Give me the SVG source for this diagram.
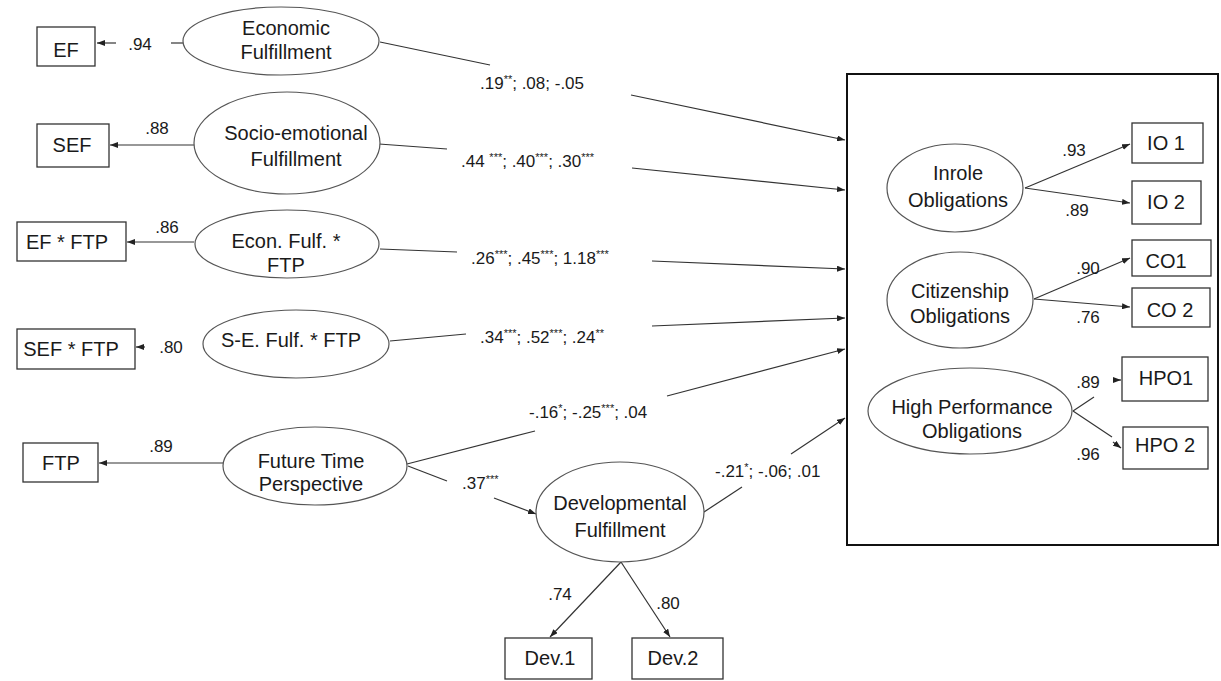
<svg xmlns="http://www.w3.org/2000/svg" width="1221" height="681" viewBox="0 0 1221 681">
<defs>
<marker id="ah" markerUnits="userSpaceOnUse" markerWidth="8" markerHeight="6" refX="8" refY="3" orient="auto">
<path d="M0,0 L8,3 L0,6 z" fill="#222"/>
</marker>
<style>
.n{font-family:"Liberation Sans",Arial,sans-serif;font-size:20px;fill:#1a1a1a;text-anchor:middle}
.b{font-family:"Liberation Sans",Arial,sans-serif;font-size:20px;fill:#1a1a1a;text-anchor:middle}
.l{font-family:"Liberation Sans",Arial,sans-serif;font-size:17px;fill:#1a1a1a}
.lc{text-anchor:middle}
.s{font-size:11px}
ellipse{fill:#fff;stroke:#555;stroke-width:1.2}
rect{fill:#fff;stroke:#333;stroke-width:1.3}
.c line{stroke:#333;stroke-width:1.2;fill:none}
.a{marker-end:url(#ah)}
</style>
</defs>
<rect id="container" x="847" y="74" width="371" height="471" style="stroke:#111;stroke-width:2;fill:none"/>
<g class="c" id="connectors">
<line x1="380" y1="42" x2="490" y2="65"/>
<line class="a" x1="631" y1="95" x2="845" y2="140"/>
<line x1="379" y1="144" x2="447" y2="149"/>
<line class="a" x1="632" y1="168" x2="845" y2="190"/>
<line x1="380" y1="249" x2="457" y2="252"/>
<line class="a" x1="652" y1="261" x2="845" y2="269"/>
<line x1="390" y1="341" x2="466" y2="334"/>
<line class="a" x1="652" y1="326" x2="845" y2="318"/>
<line x1="407" y1="464" x2="535" y2="431"/>
<line class="a" x1="667" y1="396" x2="845" y2="349"/>
<line x1="408" y1="466" x2="447" y2="481"/>
<line class="a" x1="494" y1="498" x2="536" y2="514"/>
<line x1="704" y1="512" x2="742" y2="487"/>
<line class="a" x1="791" y1="454" x2="845" y2="418"/>
<line x1="183" y1="43" x2="171" y2="43"/>
<line class="a" x1="116" y1="43" x2="97" y2="43"/>
<line class="a" x1="194" y1="145" x2="110" y2="145"/>
<line class="a" x1="194" y1="242" x2="127" y2="242"/>
<line class="a" x1="145" y1="347" x2="136" y2="347"/>
<line class="a" x1="223" y1="463" x2="99" y2="463"/>
<line class="a" x1="621" y1="562" x2="550" y2="637"/>
<line class="a" x1="621" y1="562" x2="670" y2="637"/>
<line class="a" x1="1025" y1="188" x2="1130" y2="144"/>
<line class="a" x1="1025" y1="188" x2="1130" y2="203"/>
<line class="a" x1="1034" y1="299" x2="1130" y2="258"/>
<line class="a" x1="1034" y1="299" x2="1130" y2="307"/>
<line x1="1073" y1="411" x2="1094" y2="397"/>
<line class="a" x1="1115" y1="380" x2="1121" y2="380"/>
<line x1="1073" y1="411" x2="1112" y2="437"/>
<line class="a" x1="1113" y1="442" x2="1121" y2="448"/>
</g>
<g id="labels">
<text class="l lc" x="140" y="50">.94</text>
<text class="l lc" x="157" y="134">.88</text>
<text class="l lc" x="167" y="233">.86</text>
<text class="l lc" x="171" y="353">.80</text>
<text class="l lc" x="161" y="452">.89</text>
<text class="l" x="480" y="89">.19<tspan class="s" dy="-6">**</tspan><tspan dy="6">; .08; -.05</tspan></text>
<text class="l" x="461" y="167">.44 <tspan class="s" dy="-6">***</tspan><tspan dy="6">; .40</tspan><tspan class="s" dy="-6">***</tspan><tspan dy="6">; .30</tspan><tspan class="s" dy="-6">***</tspan></text>
<text class="l" x="471" y="264">.26<tspan class="s" dy="-6">***</tspan><tspan dy="6">; .45</tspan><tspan class="s" dy="-6">***</tspan><tspan dy="6">; 1.18</tspan><tspan class="s" dy="-6">***</tspan></text>
<text class="l" x="480" y="343">.34<tspan class="s" dy="-6">***</tspan><tspan dy="6">; .52</tspan><tspan class="s" dy="-6">***</tspan><tspan dy="6">; .24</tspan><tspan class="s" dy="-6">**</tspan></text>
<text class="l" x="529" y="418">-.16<tspan class="s" dy="-6">*</tspan><tspan dy="6">; -.25</tspan><tspan class="s" dy="-6">***</tspan><tspan dy="6">; .04</tspan></text>
<text class="l" x="462" y="489">.37<tspan class="s" dy="-6">***</tspan></text>
<text class="l" x="715" y="477">-.21<tspan class="s" dy="-6">*</tspan><tspan dy="6">; -.06; .01</tspan></text>
<text class="l lc" x="1074" y="156">.93</text>
<text class="l lc" x="1077" y="216">.89</text>
<text class="l lc" x="1088" y="274">.90</text>
<text class="l lc" x="1088" y="323">.76</text>
<text class="l lc" x="1088" y="388">.89</text>
<text class="l lc" x="1088" y="460">.96</text>
<text class="l lc" x="560" y="600">.74</text>
<text class="l lc" x="668" y="609">.80</text>
</g>
<g id="n-economic"><ellipse cx="281" cy="41" rx="98" ry="34"/><text class="n" x="286" y="35">Economic</text><text class="n" x="286" y="59">Fulfillment</text></g>
<g id="n-socio"><ellipse cx="287" cy="143" rx="93" ry="51"/><text class="n" x="296" y="140">Socio-emotional</text><text class="n" x="296" y="166">Fulfillment</text></g>
<g id="n-econftp"><ellipse cx="287" cy="244" rx="92" ry="34"/><text class="n" x="286" y="248">Econ. Fulf. *</text><text class="n" x="286" y="272">FTP</text></g>
<g id="n-seftp"><ellipse cx="296" cy="344" rx="93" ry="34"/><text class="n" x="291" y="347">S-E. Fulf. * FTP</text></g>
<g id="n-ftp"><ellipse cx="315" cy="466" rx="92" ry="39"/><text class="n" x="311" y="468">Future Time</text><text class="n" x="311" y="491">Perspective</text></g>
<g id="n-dev"><ellipse cx="620" cy="512" rx="84" ry="50"/><text class="n" x="620" y="510">Developmental</text><text class="n" x="620" y="537">Fulfillment</text></g>
<g id="n-inrole"><ellipse cx="955" cy="188" rx="68" ry="44"/><text class="n" x="958" y="180">Inrole</text><text class="n" x="958" y="207">Obligations</text></g>
<g id="n-citizen"><ellipse cx="960" cy="300" rx="73" ry="48"/><text class="n" x="960" y="298">Citizenship</text><text class="n" x="960" y="323">Obligations</text></g>
<g id="n-hpo"><ellipse cx="970" cy="411" rx="102" ry="43"/><text class="n" x="972" y="414">High Performance</text><text class="n" x="972" y="438">Obligations</text></g>
<g id="b-ef"><rect x="37" y="27" width="58" height="39"/><text class="b" x="66" y="57">EF</text></g>
<g id="b-sef"><rect x="37" y="124" width="72" height="43"/><text class="b" x="72" y="152">SEF</text></g>
<g id="b-efftp"><rect x="17" y="222" width="109" height="39"/><text class="b" x="67" y="249">EF * FTP</text></g>
<g id="b-sefftp"><rect x="17" y="329" width="118" height="40"/><text class="b" x="71" y="356">SEF * FTP</text></g>
<g id="b-ftp"><rect x="23" y="443" width="75" height="39"/><text class="b" x="61" y="470">FTP</text></g>
<g id="b-dev1"><rect x="505" y="638" width="87" height="41"/><text class="b" x="550" y="665">Dev.1</text></g>
<g id="b-dev2"><rect x="632" y="638" width="91" height="41"/><text class="b" x="673" y="665">Dev.2</text></g>
<g id="b-io1"><rect x="1132" y="123" width="71" height="40"/><text class="b" x="1166" y="150">IO 1</text></g>
<g id="b-io2"><rect x="1132" y="181" width="69" height="43"/><text class="b" x="1166" y="209">IO 2</text></g>
<g id="b-co1"><rect x="1132" y="240" width="79" height="36"/><text class="b" x="1166" y="268">CO1</text></g>
<g id="b-co2"><rect x="1132" y="288" width="78" height="39"/><text class="b" x="1170" y="317">CO 2</text></g>
<g id="b-hpo1"><rect x="1122" y="357" width="86" height="44"/><text class="b" x="1166" y="385">HPO1</text></g>
<g id="b-hpo2"><rect x="1123" y="427" width="85" height="42"/><text class="b" x="1165" y="452">HPO 2</text></g>
</svg>
